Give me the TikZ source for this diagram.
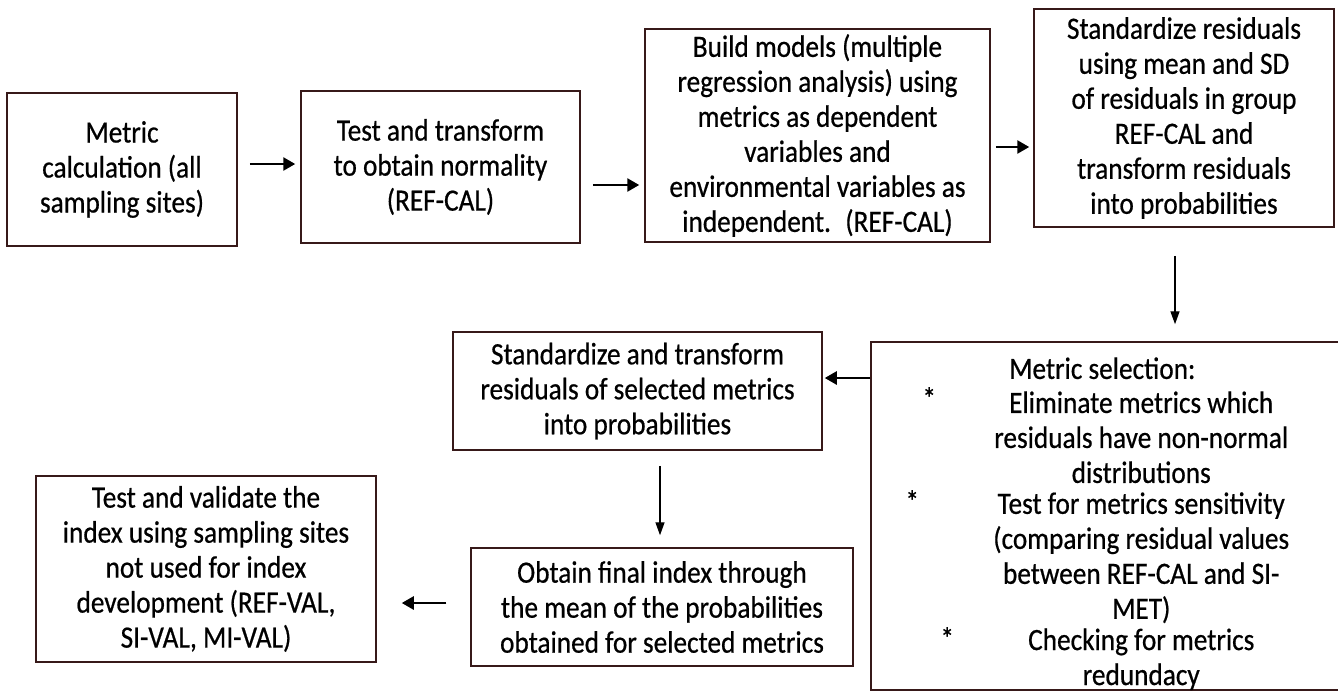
\documentclass[tikz,border=0pt]{standalone}
\usepackage{fontspec}
\setmainfont{Carlito}[FakeStretch=0.88,FakeBold=0.6]
\usetikzlibrary{arrows.meta,calc}
\definecolor{boxline}{RGB}{55,25,25}

\begin{document}
\begin{tikzpicture}[x=1pt,y=-1pt,
        box/.style={draw=boxline,line width=1.5pt,align=center,inner sep=0pt,
            font=\fontsize{31}{35}\selectfont},
        txt/.style={align=center,inner sep=0pt,font=\fontsize{31}{35}\selectfont},
        arr/.style={line width=2.6pt,-{Triangle[length=12pt,width=13pt]}},
        varr/.style={line width=1.4pt,-{Triangle[length=13pt,width=9pt]}}]
        \useasboundingbox (0,0) rectangle (1338,691);
        \clip (0,0) rectangle (1338,691);

        \node[box,minimum width=230pt,minimum height=153pt] (calc) at (122,169.5)
            {Metric\\calculation (all\\sampling sites)};
        \node[box,minimum width=279pt,minimum height=152pt] (norm) at (440.5,167)
            {Test and transform\\to obtain normality\\(REF-CAL)};
        \node[box,minimum width=345pt,minimum height=213pt] (model) at (817.5,135.5)
            {Build models (multiple\\regression analysis) using\\metrics as dependent\\variables and\\environmental variables as\\independent.~ (REF-CAL)};
        \node[box,minimum width=300pt,minimum height=218pt] (resid) at (1184,118)
            {Standardize residuals\\using mean and SD\\of residuals in group\\REF-CAL and\\transform residuals\\into probabilities};

        \node[box,minimum width=474pt,minimum height=348pt] (select) at (1108,516) {};
        \node[txt] (selhead) at ($(select.north west)+(232,27)$) {Metric selection:};
        \node[txt] (item1) at ($(select.north west)+(271,96)$)
            {Eliminate metrics which\\residuals have non-normal\\distributions};
        \node[txt] (item2) at ($(select.north west)+(271,216.5)$)
            {Test for metrics sensitivity\\(comparing residual values\\between REF-CAL and SI-\\MET)};
        \node[txt] (item3) at ($(select.north west)+(271,318)$)
            {Checking for metrics\\redundacy};
        \node[txt] (star1) at ($(select.north west)+(59,61)$) {\strut*};
        \node[txt] (star2) at ($(select.north west)+(42,164)$) {\strut*};
        \node[txt] (star3) at ($(select.north west)+(77,301)$) {\strut*};

        \node[box,minimum width=369pt,minimum height=118pt] (stdz) at (637.5,391)
            {Standardize and transform\\residuals of selected metrics\\into probabilities};
        \node[box,minimum width=382pt,minimum height=118pt] (final) at (662,607)
            {Obtain final index through\\the mean of the probabilities\\obtained for selected metrics};
        \node[box,minimum width=340pt,minimum height=186pt] (valid) at (206,569)
            {Test and validate the\\index using sampling sites\\not used for index\\development (REF-VAL,\\SI-VAL, MI-VAL)};

        \draw[arr] ($(calc.east)+(12,-5.5)$) -- ($(norm.west)+(-5,-3)$);
        \draw[arr] ($(norm.east)+(12,18)$) -- ($(model.west)+(-5,49.5)$);
        \draw[arr] ($(model.east)+(5,11.5)$) -- ($(resid.west)+(-4,29)$);
        \draw[varr] ($(resid.south)+(-9,28)$) -- ($(select.north)+(67,-17)$);
        \draw[arr] ($(select.west)+(0,-138)$) -- ($(stdz.east)+(2,-13)$);
        \draw[varr] ($(stdz.south)+(22.5,15)$) -- ($(final.north)+(-2,-12)$);
        \draw[arr] ($(final.west)+(-24,-4)$) -- ($(valid.east)+(25,34)$);
    \end{tikzpicture}
\end{document}
